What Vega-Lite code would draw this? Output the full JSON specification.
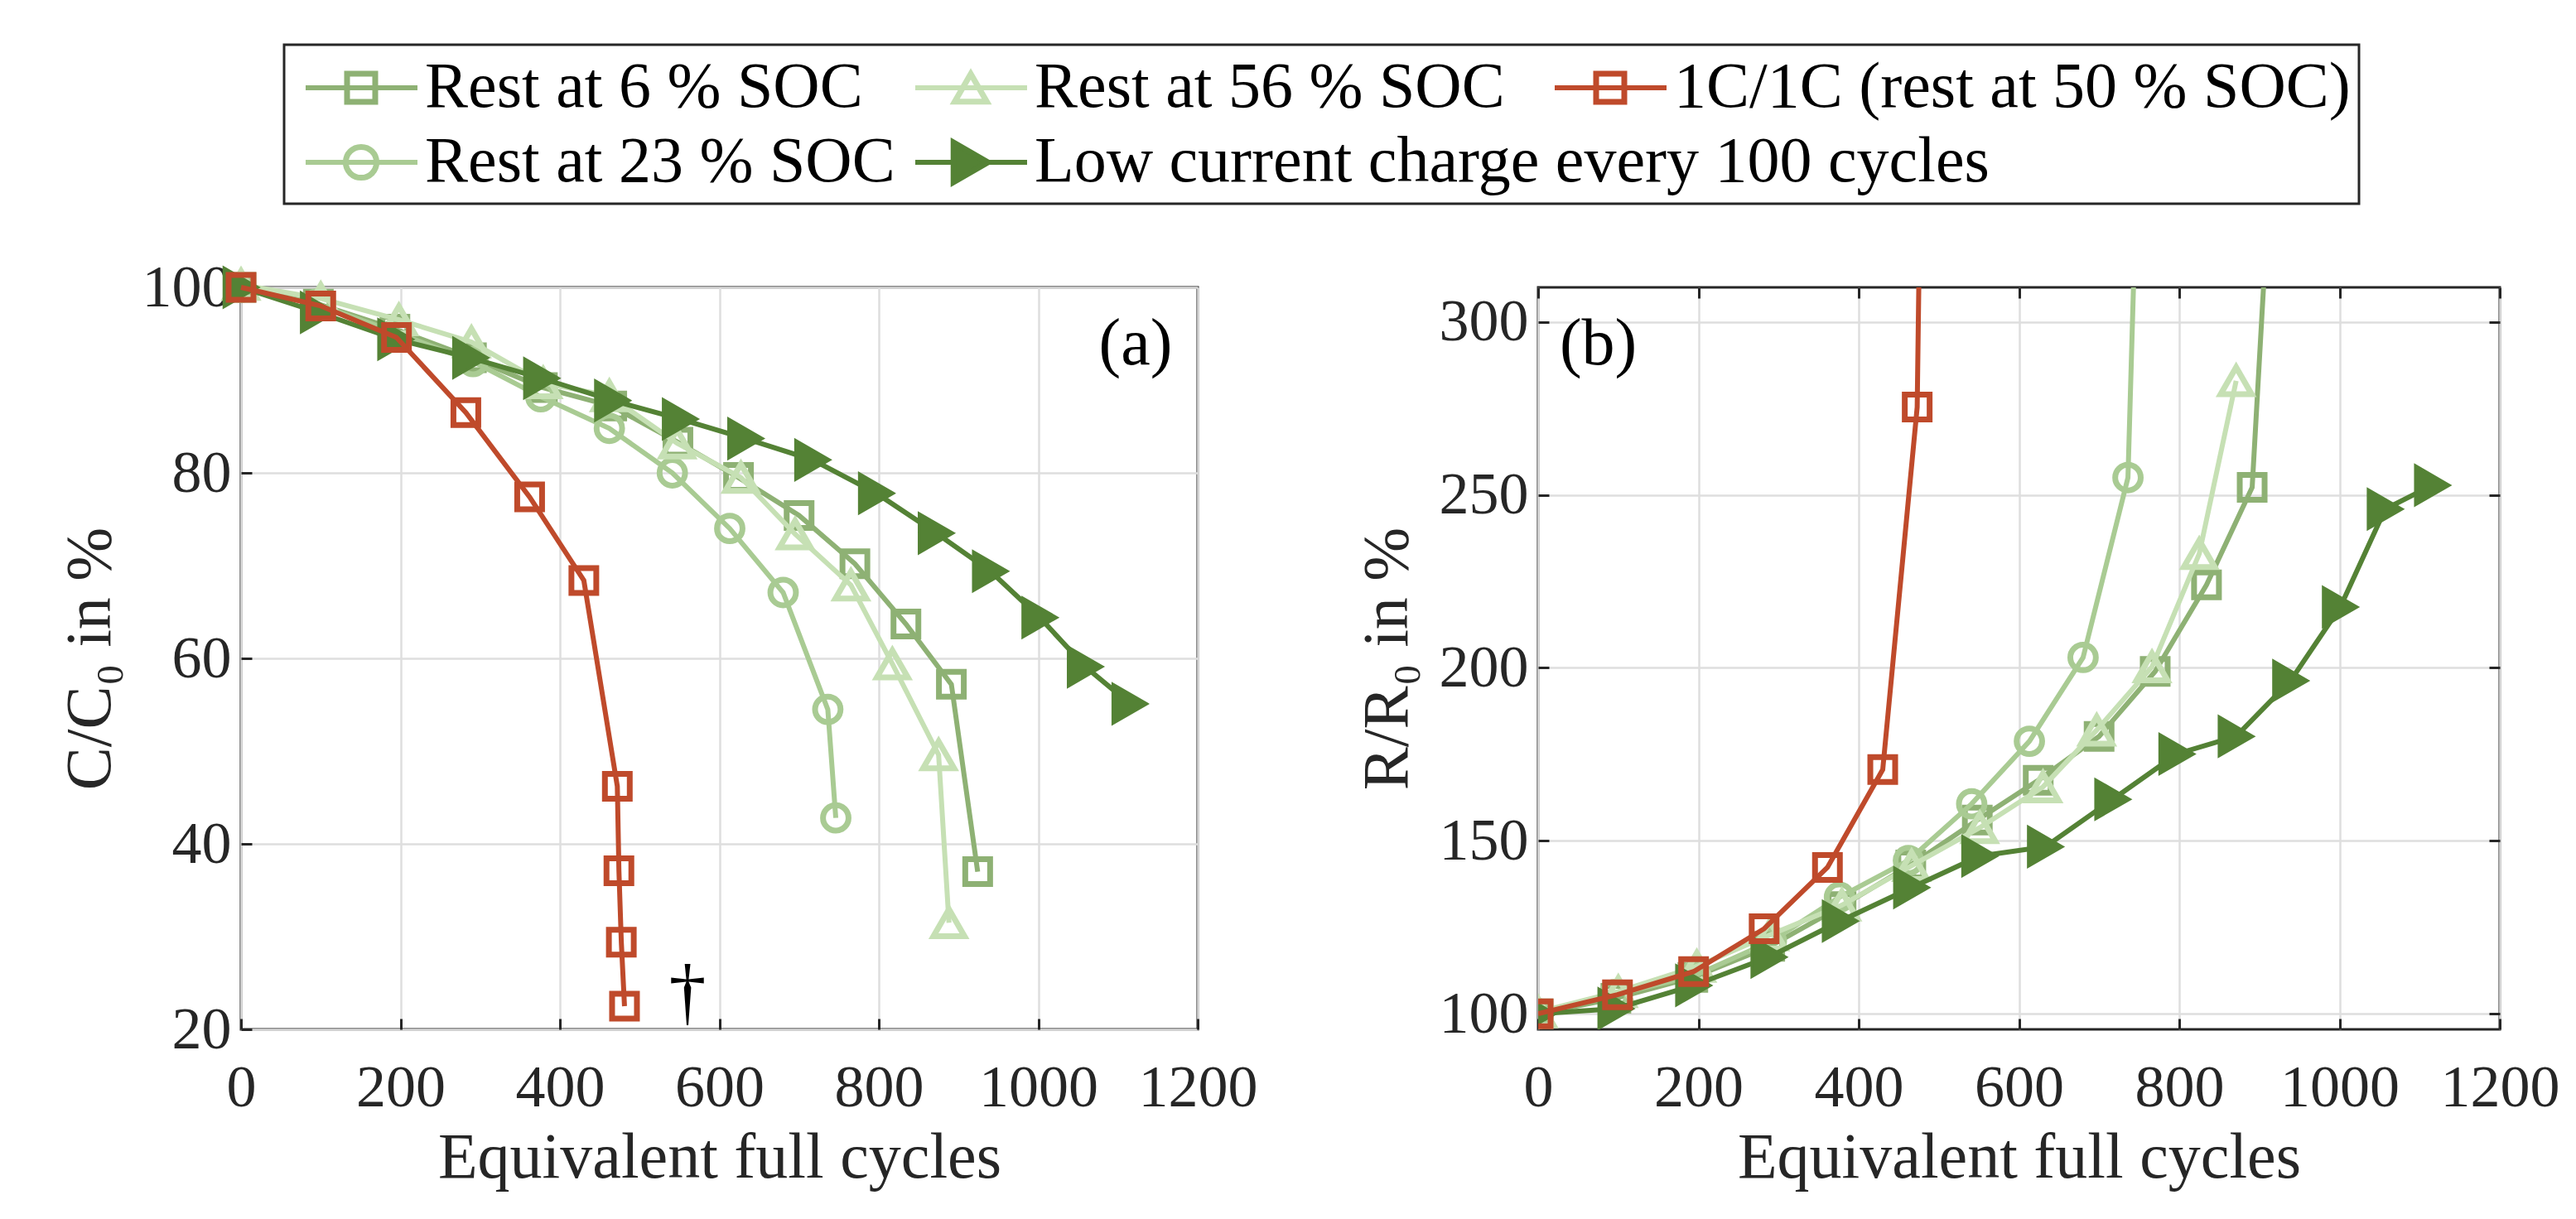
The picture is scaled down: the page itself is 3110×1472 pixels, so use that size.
{
  "$schema": "https://vega.github.io/schema/vega-lite/v6.json",
  "background": "white",
  "padding": {"left": 68, "top": 52, "right": 0, "bottom": 0},
  "config": {
    "font": "Times New Roman, Liberation Serif, serif",
    "view": {"stroke": "#262626", "strokeWidth": 3},
    "axis": {
      "labelFont": "Times New Roman, Liberation Serif, serif", "labelFontSize": 72, "labelColor": "#262626",
      "titleFont": "Times New Roman, Liberation Serif, serif", "titleFontSize": 78, "titleFontWeight": "normal", "titleColor": "#262626",
      "domain": false, "tickColor": "#262626", "tickWidth": 3, "tickSize": -13,
      "gridColor": "#dedede", "gridWidth": 2.5, "titleBaseline": "alphabetic",
      "labelOverlap": false, "labelFlush": false, "format": "d"
    },
    "axisX": {"labelPadding": 48, "titlePadding": 72},
    "axisY": {"labelPadding": 25, "titlePadding": 39},
    "text": {"font": "Times New Roman, Liberation Serif, serif"}
  },
  "datasets": {
    "leg": [
      {"s": "Rest at 6 % SOC", "col": 0, "row": 0},
      {"s": "Rest at 56 % SOC", "col": 1, "row": 0},
      {"s": "1C/1C (rest at 50 % SOC)", "col": 2, "row": 0},
      {"s": "Rest at 23 % SOC", "col": 0, "row": 1},
      {"s": "Low current charge every 100 cycles", "col": 1, "row": 1}
    ],
    "cap": [
      {"s": "Rest at 6 % SOC", "efc": 0, "v": 100},
      {"s": "Rest at 6 % SOC", "efc": 97, "v": 98.2},
      {"s": "Rest at 6 % SOC", "efc": 193, "v": 95.5},
      {"s": "Rest at 6 % SOC", "efc": 289, "v": 92.4},
      {"s": "Rest at 6 % SOC", "efc": 378, "v": 89.2},
      {"s": "Rest at 6 % SOC", "efc": 465, "v": 87.2},
      {"s": "Rest at 6 % SOC", "efc": 548, "v": 83.3},
      {"s": "Rest at 6 % SOC", "efc": 624, "v": 79.5},
      {"s": "Rest at 6 % SOC", "efc": 700, "v": 75.4},
      {"s": "Rest at 6 % SOC", "efc": 770, "v": 70.2},
      {"s": "Rest at 6 % SOC", "efc": 834, "v": 63.7},
      {"s": "Rest at 6 % SOC", "efc": 891, "v": 57.2},
      {"s": "Rest at 6 % SOC", "efc": 924, "v": 37.0},
      {"s": "Rest at 23 % SOC", "efc": 0, "v": 100},
      {"s": "Rest at 23 % SOC", "efc": 95, "v": 98.2},
      {"s": "Rest at 23 % SOC", "efc": 195, "v": 95.1},
      {"s": "Rest at 23 % SOC", "efc": 291, "v": 92.0},
      {"s": "Rest at 23 % SOC", "efc": 376, "v": 88.2},
      {"s": "Rest at 23 % SOC", "efc": 462, "v": 84.8},
      {"s": "Rest at 23 % SOC", "efc": 541, "v": 80.0},
      {"s": "Rest at 23 % SOC", "efc": 613, "v": 74.0},
      {"s": "Rest at 23 % SOC", "efc": 680, "v": 67.1},
      {"s": "Rest at 23 % SOC", "efc": 736, "v": 54.5},
      {"s": "Rest at 23 % SOC", "efc": 746, "v": 42.8},
      {"s": "Rest at 56 % SOC", "efc": 0, "v": 100.3},
      {"s": "Rest at 56 % SOC", "efc": 100, "v": 98.8},
      {"s": "Rest at 56 % SOC", "efc": 198, "v": 96.5},
      {"s": "Rest at 56 % SOC", "efc": 289, "v": 94.1},
      {"s": "Rest at 56 % SOC", "efc": 379, "v": 89.7},
      {"s": "Rest at 56 % SOC", "efc": 462, "v": 88.3},
      {"s": "Rest at 56 % SOC", "efc": 547, "v": 83.2},
      {"s": "Rest at 56 % SOC", "efc": 627, "v": 79.5},
      {"s": "Rest at 56 % SOC", "efc": 695, "v": 73.4},
      {"s": "Rest at 56 % SOC", "efc": 765, "v": 67.9},
      {"s": "Rest at 56 % SOC", "efc": 817, "v": 59.4},
      {"s": "Rest at 56 % SOC", "efc": 875, "v": 49.6},
      {"s": "Rest at 56 % SOC", "efc": 888, "v": 31.5},
      {"s": "Low current charge every 100 cycles", "efc": 0, "v": 100},
      {"s": "Low current charge every 100 cycles", "efc": 97, "v": 97.3},
      {"s": "Low current charge every 100 cycles", "efc": 194, "v": 94.4},
      {"s": "Low current charge every 100 cycles", "efc": 288, "v": 92.4},
      {"s": "Low current charge every 100 cycles", "efc": 377, "v": 90.2},
      {"s": "Low current charge every 100 cycles", "efc": 466, "v": 87.8},
      {"s": "Low current charge every 100 cycles", "efc": 551, "v": 85.8},
      {"s": "Low current charge every 100 cycles", "efc": 633, "v": 83.7},
      {"s": "Low current charge every 100 cycles", "efc": 717, "v": 81.4},
      {"s": "Low current charge every 100 cycles", "efc": 797, "v": 77.8},
      {"s": "Low current charge every 100 cycles", "efc": 872, "v": 73.5},
      {"s": "Low current charge every 100 cycles", "efc": 940, "v": 69.4},
      {"s": "Low current charge every 100 cycles", "efc": 1002, "v": 64.4},
      {"s": "Low current charge every 100 cycles", "efc": 1059, "v": 59.1},
      {"s": "Low current charge every 100 cycles", "efc": 1115, "v": 55.1},
      {"s": "1C/1C (rest at 50 % SOC)", "efc": 0, "v": 100},
      {"s": "1C/1C (rest at 50 % SOC)", "efc": 100, "v": 98.0},
      {"s": "1C/1C (rest at 50 % SOC)", "efc": 195, "v": 94.6},
      {"s": "1C/1C (rest at 50 % SOC)", "efc": 282, "v": 86.5},
      {"s": "1C/1C (rest at 50 % SOC)", "efc": 362, "v": 77.4},
      {"s": "1C/1C (rest at 50 % SOC)", "efc": 430, "v": 68.4},
      {"s": "1C/1C (rest at 50 % SOC)", "efc": 472, "v": 46.2},
      {"s": "1C/1C (rest at 50 % SOC)", "efc": 474, "v": 37.1},
      {"s": "1C/1C (rest at 50 % SOC)", "efc": 477, "v": 29.4},
      {"s": "1C/1C (rest at 50 % SOC)", "efc": 481, "v": 22.5}
    ],
    "res": [
      {"s": "Rest at 6 % SOC", "efc": 0, "v": 100},
      {"s": "Rest at 6 % SOC", "efc": 97, "v": 104.5},
      {"s": "Rest at 6 % SOC", "efc": 193, "v": 110.5},
      {"s": "Rest at 6 % SOC", "efc": 289, "v": 119.5},
      {"s": "Rest at 6 % SOC", "efc": 378, "v": 131},
      {"s": "Rest at 6 % SOC", "efc": 465, "v": 143},
      {"s": "Rest at 6 % SOC", "efc": 548, "v": 156},
      {"s": "Rest at 6 % SOC", "efc": 624, "v": 167.5},
      {"s": "Rest at 6 % SOC", "efc": 700, "v": 180.2},
      {"s": "Rest at 6 % SOC", "efc": 770, "v": 199},
      {"s": "Rest at 6 % SOC", "efc": 834, "v": 224},
      {"s": "Rest at 6 % SOC", "efc": 891, "v": 252.2},
      {"s": "Rest at 6 % SOC", "efc": 924, "v": 387},
      {"s": "Rest at 23 % SOC", "efc": 0, "v": 100},
      {"s": "Rest at 23 % SOC", "efc": 95, "v": 105.5},
      {"s": "Rest at 23 % SOC", "efc": 195, "v": 111},
      {"s": "Rest at 23 % SOC", "efc": 291, "v": 121},
      {"s": "Rest at 23 % SOC", "efc": 376, "v": 133.7},
      {"s": "Rest at 23 % SOC", "efc": 462, "v": 144.3},
      {"s": "Rest at 23 % SOC", "efc": 541, "v": 160.7},
      {"s": "Rest at 23 % SOC", "efc": 613, "v": 178.8},
      {"s": "Rest at 23 % SOC", "efc": 680, "v": 203},
      {"s": "Rest at 23 % SOC", "efc": 736, "v": 255},
      {"s": "Rest at 23 % SOC", "efc": 746, "v": 335},
      {"s": "Rest at 56 % SOC", "efc": 0, "v": 100.5},
      {"s": "Rest at 56 % SOC", "efc": 100, "v": 106.4},
      {"s": "Rest at 56 % SOC", "efc": 198, "v": 113.7},
      {"s": "Rest at 56 % SOC", "efc": 289, "v": 122.8},
      {"s": "Rest at 56 % SOC", "efc": 379, "v": 131.4},
      {"s": "Rest at 56 % SOC", "efc": 466, "v": 142.8},
      {"s": "Rest at 56 % SOC", "efc": 551, "v": 153.8},
      {"s": "Rest at 56 % SOC", "efc": 630, "v": 165.6},
      {"s": "Rest at 56 % SOC", "efc": 697, "v": 182},
      {"s": "Rest at 56 % SOC", "efc": 766, "v": 200.3},
      {"s": "Rest at 56 % SOC", "efc": 825, "v": 233},
      {"s": "Rest at 56 % SOC", "efc": 871, "v": 283},
      {"s": "Low current charge every 100 cycles", "efc": 0, "v": 100},
      {"s": "Low current charge every 100 cycles", "efc": 97, "v": 101.5},
      {"s": "Low current charge every 100 cycles", "efc": 194, "v": 108.2},
      {"s": "Low current charge every 100 cycles", "efc": 288, "v": 116.4},
      {"s": "Low current charge every 100 cycles", "efc": 377, "v": 126.8},
      {"s": "Low current charge every 100 cycles", "efc": 466, "v": 136.5},
      {"s": "Low current charge every 100 cycles", "efc": 551, "v": 145.6},
      {"s": "Low current charge every 100 cycles", "efc": 633, "v": 148.3},
      {"s": "Low current charge every 100 cycles", "efc": 717, "v": 162},
      {"s": "Low current charge every 100 cycles", "efc": 797, "v": 175.1},
      {"s": "Low current charge every 100 cycles", "efc": 871, "v": 180.2},
      {"s": "Low current charge every 100 cycles", "efc": 939, "v": 196.3},
      {"s": "Low current charge every 100 cycles", "efc": 1001, "v": 217.6},
      {"s": "Low current charge every 100 cycles", "efc": 1057, "v": 245.9},
      {"s": "Low current charge every 100 cycles", "efc": 1116, "v": 252.8},
      {"s": "1C/1C (rest at 50 % SOC)", "efc": 0, "v": 100},
      {"s": "1C/1C (rest at 50 % SOC)", "efc": 99, "v": 105.5},
      {"s": "1C/1C (rest at 50 % SOC)", "efc": 194, "v": 112.2},
      {"s": "1C/1C (rest at 50 % SOC)", "efc": 282, "v": 124.6},
      {"s": "1C/1C (rest at 50 % SOC)", "efc": 361, "v": 142.3},
      {"s": "1C/1C (rest at 50 % SOC)", "efc": 430, "v": 170.6},
      {"s": "1C/1C (rest at 50 % SOC)", "efc": 473, "v": 275.4},
      {"s": "1C/1C (rest at 50 % SOC)", "efc": 477, "v": 345}
    ]
  },
  "spacing": 61,
  "vconcat": [
    {
      "spacing": 0,
      "hconcat": [
        {
          "width": 50,
          "height": 192,
          "view": {"stroke": null},
          "data": {"values": []},
          "mark": {"type": "point", "opacity": 0},
          "encoding": {}
        },
        {
          "width": 2505,
          "height": 192,
          "data": {"name": "leg"},
          "encoding": {
            "x": {"field": "col", "type": "quantitative", "scale": {"domain": [0, 1, 2], "range": [93, 829, 1601]}, "axis": null},
            "y": {"field": "row", "type": "quantitative", "scale": {"domain": [0, 1], "range": [52, 142]}, "axis": null},
            "color": {"field": "s", "type": "nominal", "legend": null, "scale": {
              "domain": ["Rest at 6 % SOC", "Rest at 23 % SOC", "Rest at 56 % SOC", "Low current charge every 100 cycles", "1C/1C (rest at 50 % SOC)"],
              "range": ["#8EB174", "#A9CB93", "#C6E0B4", "#548235", "#BF4A2B"]}}
          },
          "layer": [
            {"mark": {"type": "rule", "strokeWidth": 6, "xOffset": -67, "x2Offset": 68}, "encoding": {"x2": {"field": "col"}}},
            {"mark": {"type": "point", "strokeWidth": 7, "opacity": 1, "filled": false},
             "encoding": {
               "shape": {"field": "s", "type": "nominal", "legend": null, "scale": {
                 "domain": ["Rest at 6 % SOC", "Rest at 23 % SOC", "Rest at 56 % SOC", "Low current charge every 100 cycles", "1C/1C (rest at 50 % SOC)"],
                 "range": ["square", "circle", "triangle-up", "triangle-right", "square"]}},
               "size": {"field": "s", "type": "nominal", "legend": null, "scale": {"type": "ordinal",
                 "domain": ["Rest at 6 % SOC", "Rest at 23 % SOC", "Rest at 56 % SOC", "Low current charge every 100 cycles", "1C/1C (rest at 50 % SOC)"],
                 "range": [1156, 1385, 1500, 2300, 1156]}},
               "fill": {"field": "s", "type": "nominal", "legend": null, "scale": {
                 "domain": ["Rest at 6 % SOC", "Rest at 23 % SOC", "Rest at 56 % SOC", "Low current charge every 100 cycles", "1C/1C (rest at 50 % SOC)"],
                 "range": ["transparent", "transparent", "transparent", "#548235", "transparent"]}}
             }},
            {"mark": {"type": "text", "align": "left", "baseline": "middle", "dx": 77, "fontSize": 78},
             "encoding": {"text": {"field": "s"}, "color": {"value": "#000000"}}}
          ]
        }
      ]
    },
    {
      "spacing": 411,
      "bounds": "flush",
      "hconcat": [
        {
          "width": 1155,
          "height": 896,
          "resolve": {"axis": {"x": "independent", "y": "independent"}},
          "layer": [
            {
              "data": {"name": "cap"},
              "encoding": {
                "x": {"field": "efc", "type": "quantitative", "scale": {"domain": [0, 1200], "nice": false, "zero": false},
                      "axis": {"values": [0, 200, 400, 600, 800, 1000, 1200], "title": "Equivalent full cycles"}},
                "y": {"field": "v", "type": "quantitative", "scale": {"domain": [20, 100], "nice": false, "zero": false},
                      "axis": {"values": [20, 40, 60, 80, 100], "title": "C/C₀ in %"}}
              },
              "layer": [
                {"transform": [{"filter": "datum.s === 'Rest at 6 % SOC'"}], "layer": [
                  {"mark": {"type": "line", "color": "#8EB174", "strokeWidth": 6}, "encoding": {}},
                  {"mark": {"type": "point", "shape": "square", "size": 900, "filled": false, "color": "#8EB174", "strokeWidth": 7, "opacity": 1}}
                ]},
                {"transform": [{"filter": "datum.s === 'Rest at 23 % SOC'"}], "layer": [
                  {"mark": {"type": "line", "color": "#A9CB93", "strokeWidth": 6}, "encoding": {}},
                  {"mark": {"type": "point", "shape": "circle", "size": 950, "filled": false, "color": "#A9CB93", "strokeWidth": 7, "opacity": 1}}
                ]},
                {"transform": [{"filter": "datum.s === 'Rest at 56 % SOC'"}], "layer": [
                  {"mark": {"type": "line", "color": "#C6E0B4", "strokeWidth": 6}, "encoding": {}},
                  {"mark": {"type": "point", "shape": "triangle-up", "size": 1400, "filled": false, "color": "#C6E0B4", "strokeWidth": 7, "opacity": 1}}
                ]},
                {"transform": [{"filter": "datum.s === 'Low current charge every 100 cycles'"}], "layer": [
                  {"mark": {"type": "line", "color": "#548235", "strokeWidth": 6}, "encoding": {}},
                  {"mark": {"type": "point", "shape": "triangle-right", "size": 2300, "filled": true, "color": "#548235", "stroke": "#548235", "strokeWidth": 3, "opacity": 1}}
                ]},
                {"transform": [{"filter": "datum.s === '1C/1C (rest at 50 % SOC)'"}], "layer": [
                  {"mark": {"type": "line", "color": "#BF4A2B", "strokeWidth": 6}, "encoding": {}},
                  {"mark": {"type": "point", "shape": "square", "size": 900, "filled": false, "color": "#BF4A2B", "strokeWidth": 7, "opacity": 1}}
                ]}
              ]
            },
            {
              "data": {"values": [{}]},
              "layer": [
                {"mark": {"type": "text", "fontSize": 80, "color": "#000000", "baseline": "middle", "align": "center"},
                 "encoding": {
                   "x": {"datum": 1122, "type": "quantitative", "axis": {"orient": "top", "values": [0, 200, 400, 600, 800, 1000, 1200], "labels": false, "grid": false, "title": null}},
                   "y": {"datum": 93.8, "type": "quantitative", "axis": {"orient": "right", "values": [20, 40, 60, 80, 100], "labels": false, "grid": false, "title": null}},
                   "text": {"value": "(a)"}
                 }},
                {"mark": {"type": "text", "fontSize": 90, "color": "#000000", "baseline": "middle", "align": "center"},
                 "encoding": {
                   "x": {"datum": 560, "type": "quantitative", "axis": null},
                   "y": {"datum": 23.8, "type": "quantitative", "axis": null},
                   "text": {"value": "†"}
                 }}
              ]
            }
          ]
        },
        {
          "width": 1161,
          "height": 896,
          "resolve": {"axis": {"x": "independent", "y": "independent"}},
          "layer": [
            {
              "data": {"name": "res"},
              "encoding": {
                "x": {"field": "efc", "type": "quantitative", "scale": {"domain": [0, 1200], "nice": false, "zero": false},
                      "axis": {"values": [0, 200, 400, 600, 800, 1000, 1200], "title": "Equivalent full cycles"}},
                "y": {"field": "v", "type": "quantitative", "scale": {"domain": [95.5, 310], "nice": false, "zero": false},
                      "axis": {"values": [100, 150, 200, 250, 300], "title": "R/R₀ in %"}}
              },
              "layer": [
                {"transform": [{"filter": "datum.s === 'Rest at 6 % SOC'"}], "layer": [
                  {"mark": {"type": "line", "color": "#8EB174", "strokeWidth": 6, "clip": true}, "encoding": {}},
                  {"mark": {"type": "point", "shape": "square", "size": 900, "filled": false, "color": "#8EB174", "strokeWidth": 7, "opacity": 1, "clip": true}}
                ]},
                {"transform": [{"filter": "datum.s === 'Rest at 23 % SOC'"}], "layer": [
                  {"mark": {"type": "line", "color": "#A9CB93", "strokeWidth": 6, "clip": true}, "encoding": {}},
                  {"mark": {"type": "point", "shape": "circle", "size": 950, "filled": false, "color": "#A9CB93", "strokeWidth": 7, "opacity": 1, "clip": true}}
                ]},
                {"transform": [{"filter": "datum.s === 'Rest at 56 % SOC'"}], "layer": [
                  {"mark": {"type": "line", "color": "#C6E0B4", "strokeWidth": 6, "clip": true}, "encoding": {}},
                  {"mark": {"type": "point", "shape": "triangle-up", "size": 1400, "filled": false, "color": "#C6E0B4", "strokeWidth": 7, "opacity": 1, "clip": true}}
                ]},
                {"transform": [{"filter": "datum.s === 'Low current charge every 100 cycles'"}], "layer": [
                  {"mark": {"type": "line", "color": "#548235", "strokeWidth": 6, "clip": true}, "encoding": {}},
                  {"mark": {"type": "point", "shape": "triangle-right", "size": 2300, "filled": true, "color": "#548235", "stroke": "#548235", "strokeWidth": 3, "opacity": 1, "clip": true}}
                ]},
                {"transform": [{"filter": "datum.s === '1C/1C (rest at 50 % SOC)'"}], "layer": [
                  {"mark": {"type": "line", "color": "#BF4A2B", "strokeWidth": 6, "clip": true}, "encoding": {}},
                  {"mark": {"type": "point", "shape": "square", "size": 900, "filled": false, "color": "#BF4A2B", "strokeWidth": 7, "opacity": 1, "clip": true}}
                ]}
              ]
            },
            {
              "data": {"values": [{}]},
              "layer": [
                {"mark": {"type": "text", "fontSize": 80, "color": "#000000", "baseline": "middle", "align": "center"},
                 "encoding": {
                   "x": {"datum": 75, "type": "quantitative", "axis": {"orient": "top", "values": [0, 200, 400, 600, 800, 1000, 1200], "labels": false, "grid": false, "title": null}},
                   "y": {"datum": 293.4, "type": "quantitative", "axis": {"orient": "right", "values": [100, 150, 200, 250, 300], "labels": false, "grid": false, "title": null}},
                   "text": {"value": "(b)"}
                 }}
              ]
            }
          ]
        }
      ]
    }
  ]
}
